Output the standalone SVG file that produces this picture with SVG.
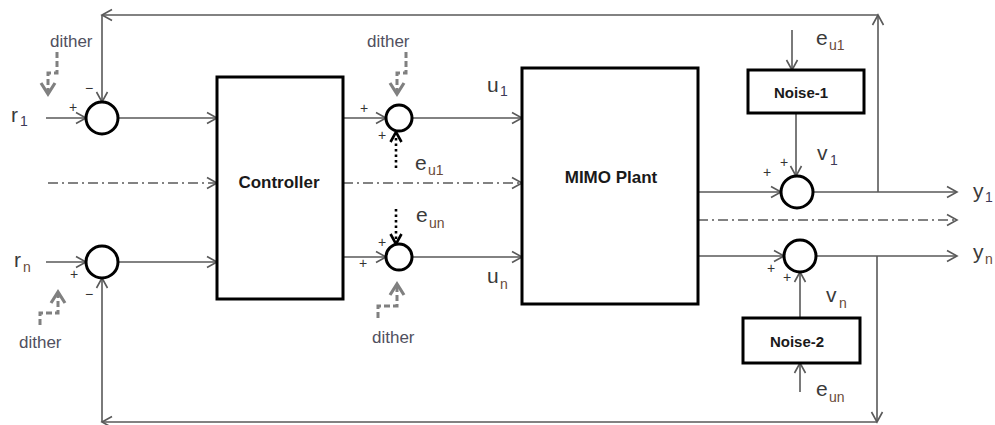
<svg xmlns="http://www.w3.org/2000/svg" width="995" height="425" viewBox="0 0 995 425">
<defs>
<marker id="ah" markerUnits="userSpaceOnUse" markerWidth="14" markerHeight="14" viewBox="0 0 14 14" refX="12" refY="7" orient="auto">
<path d="M2,1.5 L12,7 L2,12.5" fill="none" stroke="#595959" stroke-width="1.6"/>
</marker>
<marker id="dh" markerUnits="userSpaceOnUse" markerWidth="18" markerHeight="18" viewBox="0 0 18 18" refX="14" refY="9" orient="auto">
<path d="M3,2 L14,9 L3,16" fill="none" stroke="#808080" stroke-width="3.2"/>
</marker>
<marker id="bh" markerUnits="userSpaceOnUse" markerWidth="14" markerHeight="14" viewBox="0 0 14 14" refX="12" refY="7" orient="auto">
<path d="M2,1.5 L12,7 L2,12.5" fill="none" stroke="#000" stroke-width="2.6"/>
</marker>
<style>
.ln{fill:none;stroke:#595959;stroke-width:1.6;marker-end:url(#ah)}
.dd{fill:none;stroke:#595959;stroke-width:1.6;stroke-dasharray:10,4,2,4;marker-end:url(#ah)}
.dt{fill:none;stroke:#808080;stroke-width:3;stroke-dasharray:6,3;marker-end:url(#dh)}
.bd{fill:none;stroke:#000;stroke-width:2.6;stroke-dasharray:2.5,3;marker-end:url(#bh)}
.sum{fill:#fff;stroke:#000;stroke-width:3}
.box{fill:#fff;stroke:#000;stroke-width:3}
.bt{font-family:"Liberation Sans",Arial,sans-serif;font-weight:bold;fill:#1a1a1a;text-anchor:middle}
.lb{font-family:"Liberation Sans",Arial,sans-serif;font-size:21px;fill:#3a3a3a}
.sb{font-family:"Liberation Sans",Arial,sans-serif;font-size:14px;fill:#3e3a58}
.sn{font-family:"Liberation Sans",Arial,sans-serif;font-size:14px;fill:#6a4a38}
.di{font-family:"Liberation Sans",Arial,sans-serif;font-size:17px;fill:#505060}
.sg{font-family:"Liberation Sans",Arial,sans-serif;font-size:14px;fill:#333;text-anchor:middle}
</style>
</defs>
<g id="connectors">
<path class="ln" d="M46,118 H86"/>
<path class="ln" d="M118,118 H217"/>
<path class="dd" d="M48,183 H217"/>
<path class="ln" d="M46,262 H86"/>
<path class="ln" d="M118,262 H217"/>
<path class="ln" d="M343,118 H386"/>
<path class="ln" d="M412,118 H522"/>
<path class="dd" d="M343,183 H522"/>
<path class="ln" d="M343,257 H386"/>
<path class="ln" d="M412,257 H522"/>
<path class="ln" d="M698,192 H781"/>
<path class="ln" d="M813,192 H957"/>
<path class="dd" d="M698,220 H957"/>
<path class="ln" d="M698,256 H784"/>
<path class="ln" d="M816,256 H957"/>
<path class="ln" d="M792,30 V70"/>
<path class="ln" d="M796,113 V176"/>
<path class="ln" d="M800,318 V272"/>
<path class="ln" d="M800,392 V363"/>
<path class="ln" d="M878,192 V15"/>
<path class="ln" d="M878,15 H102"/>
<path class="ln" d="M102,15 V102"/>
<path class="ln" d="M877,256 V422"/>
<path class="ln" d="M877,422 H102"/>
<path class="ln" d="M102,422 V278"/>
<path class="dt" d="M57,52 V73 H48 V94"/>
<path class="dt" d="M406,52 V73 H397 V94"/>
<path class="dt" d="M40,325 V313 H58 V292"/>
<path class="dt" d="M378,318 V306 H397 V284"/>
<path class="bd" d="M396,168 V132"/>
<path class="bd" d="M396,209 V244"/>
</g>
<g id="sum-r1"><circle class="sum" cx="102" cy="118" r="16"/></g>
<g id="sum-rn"><circle class="sum" cx="102" cy="262" r="16"/></g>
<g id="sum-u1"><circle class="sum" cx="399" cy="118" r="13"/></g>
<g id="sum-un"><circle class="sum" cx="399" cy="257" r="13"/></g>
<g id="sum-y1"><circle class="sum" cx="797" cy="192" r="16"/></g>
<g id="sum-yn"><circle class="sum" cx="800" cy="256" r="16"/></g>
<g id="controller"><rect class="box" x="217" y="77" width="126" height="222"/><text class="bt" x="279" y="188" font-size="17">Controller</text></g>
<g id="mimo-plant"><rect class="box" x="522" y="68" width="176" height="236"/><text class="bt" x="611" y="183" font-size="17">MIMO Plant</text></g>
<g id="noise-1"><rect class="box" x="748" y="70" width="116" height="43" stroke-width="2.6"/><text class="bt" x="801" y="98" font-size="15">Noise-1</text></g>
<g id="noise-2"><rect class="box" x="743" y="318" width="117" height="45" stroke-width="2.6"/><text class="bt" x="797" y="347" font-size="15">Noise-2</text></g>
<g id="labels">
<text class="lb" x="11" y="122">r</text><text class="sb" x="20" y="126">1</text>
<text class="lb" x="14" y="267">r</text><text class="sn" x="23" y="272">n</text>
<text class="lb" x="487" y="92">u</text><text class="sb" x="500" y="96">1</text>
<text class="lb" x="487" y="283">u</text><text class="sn" x="500" y="289">n</text>
<text class="lb" x="415" y="170">e</text><text class="sn" x="428" y="175">u1</text>
<text class="lb" x="416" y="222">e</text><text class="sn" x="429" y="228">un</text>
<text class="lb" x="816" y="45">e</text><text class="sn" x="829" y="50">u1</text>
<text class="lb" x="817" y="160">v</text><text class="sb" x="830" y="165">1</text>
<text class="lb" x="826" y="302">v</text><text class="sn" x="839" y="308">n</text>
<text class="lb" x="816" y="396">e</text><text class="sn" x="829" y="402">un</text>
<text class="lb" x="973" y="198">y</text><text class="sb" x="985" y="202">1</text>
<text class="lb" x="973" y="259">y</text><text class="sn" x="985" y="264">n</text>
<text class="di" x="50" y="47">dither</text>
<text class="di" x="367" y="47">dither</text>
<text class="di" x="19" y="348">dither</text>
<text class="di" x="372" y="343">dither</text>
<text class="sg" x="73" y="112">+</text>
<text class="sg" x="89" y="93" font-size="16">−</text>
<text class="sg" x="74" y="279">+</text>
<text class="sg" x="89" y="299" font-size="16">−</text>
<text class="sg" x="364" y="113">+</text>
<text class="sg" x="382" y="140">+</text>
<text class="sg" x="382" y="247">+</text>
<text class="sg" x="363" y="268">+</text>
<text class="sg" x="767" y="177">+</text>
<text class="sg" x="784" y="167">+</text>
<text class="sg" x="771" y="273">+</text>
<text class="sg" x="787" y="282">+</text>
</g>
</svg>
